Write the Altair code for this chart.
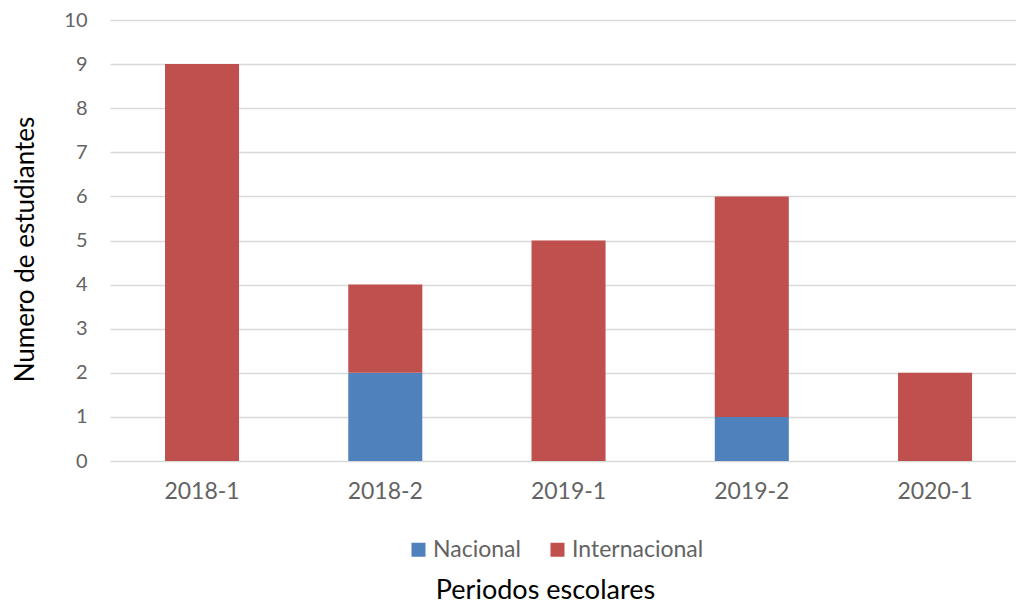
import altair as alt
import pandas as pd

periods = ["2018-1", "2018-2", "2019-1", "2019-2", "2020-1"]
nacional = [0, 2, 0, 1, 0]
internacional = [9, 2, 5, 5, 2]
series = ["Nacional", "Internacional"]
colors = ["#4f81bd", "#c0504d"]
y_ticks = list(range(0, 11))

rows = []
for p, n, i in zip(periods, nacional, internacional):
    rows.append({"periodo": p, "serie": "Nacional", "valor": n, "orden": 0})
    rows.append({"periodo": p, "serie": "Internacional", "valor": i, "orden": 1})
df = pd.DataFrame(rows)

FONT = "Lato"
GRAY = "#636363"

chart = alt.Chart(df).mark_bar().encode(
    x=alt.X("periodo:N", sort=periods,
            scale=alt.Scale(paddingInner=0.596, paddingOuter=0.27, align=0.556),
            axis=alt.Axis(title="Periodos escolares", labelAngle=0, ticks=False, domain=False,
                          labelFont=FONT, labelFontSize=23, labelColor=GRAY,
                          labelPadding=19,
                          titleFont=FONT, titleFontSize=27, titleFontWeight="normal",
                          titleColor="#000000", titleX=435, titleY=137,
                          titleBaseline="alphabetic", titleAnchor="middle")),
    y=alt.Y("valor:Q", stack="zero", scale=alt.Scale(domain=[0, 10], nice=False),
            axis=alt.Axis(title="Numero de estudiantes", values=y_ticks, ticks=False, domain=False,
                          grid=True, gridColor="#d9d9d9", gridWidth=1.3,
                          labelFont=FONT, labelFontSize=20, labelColor=GRAY,
                          labelPadding=23,
                          titleFont=FONT, titleFontSize=26, titleFontWeight="normal",
                          titleColor="#000000", titleAngle=-90, titleX=-85, titleY=229,
                          titleBaseline="middle", titleAnchor="middle")),
    color=alt.Color("serie:N", sort=series,
                    scale=alt.Scale(domain=series, range=colors),
                    legend=alt.Legend(title=None, orient="none", legendX=297, legendY=518,
                                      direction="horizontal", symbolType="square",
                                      symbolSize=196, symbolStrokeWidth=0,
                                      labelFont=FONT, labelFontSize=23, labelColor=GRAY,
                                      columnPadding=25, labelOffset=3)),
    order=alt.Order("orden:Q", sort="ascending"),
).properties(
    width=906, height=441,
    padding={"left": 102, "top": 12, "right": 0, "bottom": 144},
    autosize=alt.AutoSizeParams(type="none"),
).configure_view(stroke=None)

chart.save("out.html", embed_options={"renderer": "svg", "actions": False})
